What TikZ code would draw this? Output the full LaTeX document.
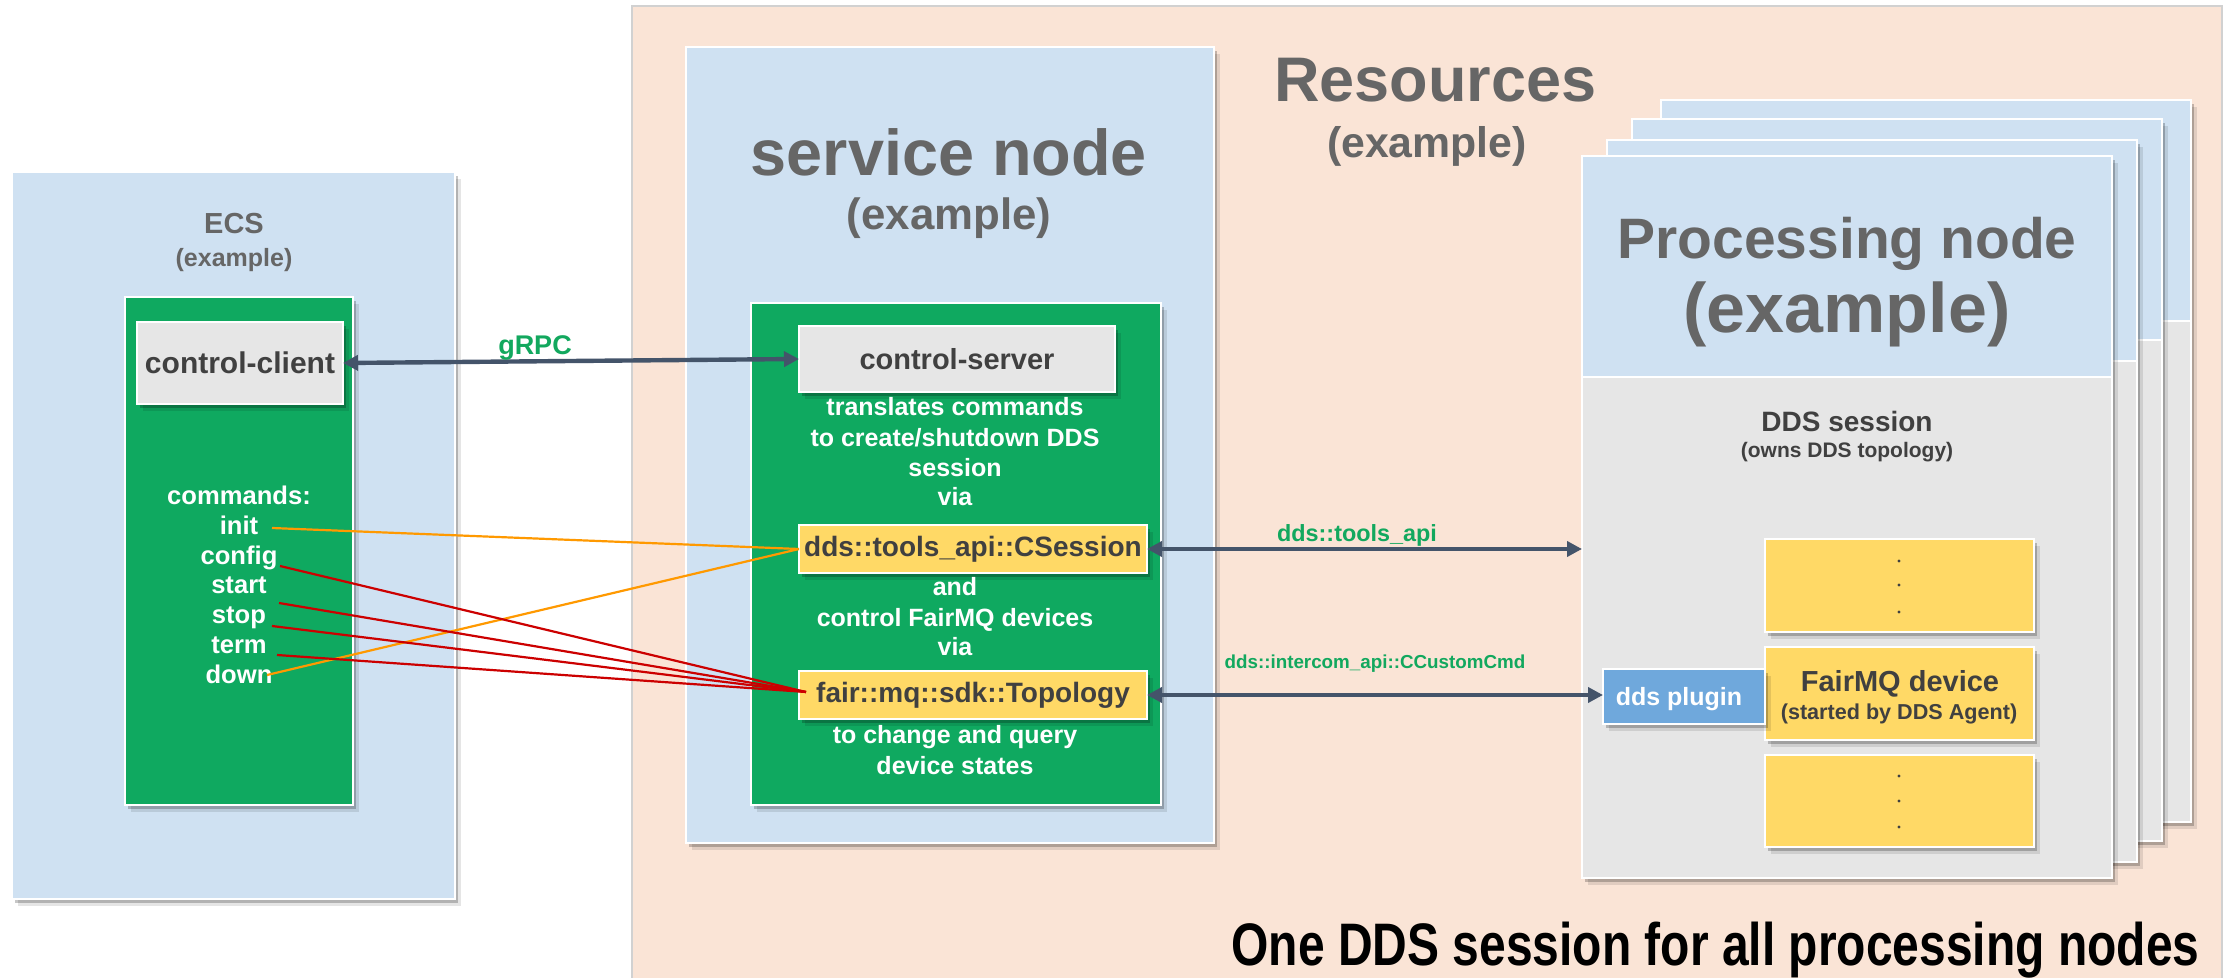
\documentclass[tikz,border=0pt]{standalone}
\usepackage{fontspec}
\setmainfont{Liberation Sans}
\newfontfamily\narrowfont[FakeStretch=0.8]{Liberation Sans}
\usetikzlibrary{arrows.meta,shadows}
\definecolor{peach}{HTML}{FAE4D6}
\definecolor{lblue}{HTML}{CFE1F2}
\definecolor{dgreen}{HTML}{0FA960}
\definecolor{lgrey}{HTML}{E6E6E6}
\definecolor{yel}{HTML}{FFD966}
\definecolor{plugblue}{HTML}{6FA8DC}
\definecolor{titlegrey}{HTML}{666666}
\definecolor{darktext}{HTML}{404040}
\definecolor{labgreen}{HTML}{12A85E}
\definecolor{arrowc}{HTML}{44546A}
\definecolor{orangec}{HTML}{FF9900}
\definecolor{redc}{HTML}{CC0000}
\newcommand\fsz[1]{\fontsize{#1}{#1}\selectfont\bfseries}
\newcommand\pbox[6]{\node[#2, anchor=north west, inner sep=0pt, outer sep=0pt,
  minimum width={(#5-#3)*0.5pt}, minimum height={(#6-#4)*0.5pt}] (#1) at (#3,#4) {};}
\tikzset{
  shd/.style={drop shadow={shadow xshift=3pt, shadow yshift=-3.5pt, opacity=0.10, fill=black},
              drop shadow={shadow xshift=1.6pt, shadow yshift=-2pt, opacity=0.22, fill=black}},
  wbox/.style={draw=white, line width=1.3pt},
  resbox/.style={draw=black!18, line width=1.2pt, fill=peach},
  bluebox/.style={wbox, fill=lblue, shd},
  greenbox/.style={wbox, fill=dgreen, shd},
  greybox/.style={wbox, fill=lgrey, shd},
  yelbox/.style={wbox, fill=yel, shd},
  plugbox/.style={wbox, fill=plugblue, shd},
  layerbg/.style={wbox, fill=lgrey, shd},
  layertop/.style={wbox, fill=lblue},
  txt/.style={inner sep=0pt, anchor=base},
  title/.style={txt, text=titlegrey},
  wtxt/.style={txt, text=white},
  dtxt/.style={txt, text=darktext},
  gtxt/.style={txt, text=labgreen},
  conn/.style={draw=arrowc, line width=2.2pt,
    {Triangle[length=7.5pt,width=7.5pt]}-{Triangle[length=7.5pt,width=7.5pt]}},
  cmdo/.style={draw=orangec, line width=1.1pt},
  cmdr/.style={draw=redc, line width=1.1pt},
  dot/.style={fill=darktext},
}
\begin{document}
\begin{tikzpicture}[x=0.5pt,y=-0.5pt]
\fill[white] (0,0) rectangle (2228,978);
\useasboundingbox (0,0) rectangle (2228,978);

% Resources background
\pbox{res}{resbox}{632}{6}{2222}{990}
\node[title, font=\fsz{31.5}] (restitle) at (1435.5,101.7) {Resources};
\node[title, font=\fsz{21.4}] (resex) at (1427,157.5) {(example)};

% ECS
\pbox{ecs}{bluebox}{12}{172}{455}{899}
\node[title, font=\fsz{14.5}] (ecstitle) at (234,234) {ECS};
\node[title, font=\fsz{12.5}] (ecsex) at (234,267) {(example)};
\pbox{ecsg}{greenbox}{125}{297}{353}{805}
\pbox{cclient}{greybox}{137}{322}{343}{404}
\node[dtxt, font=\fsz{15}, anchor=center] (cclientt) at (cclient.center) {control-client};
\node[wtxt, font=\fsz{12.8}] (cmds) at (239,504.4) {commands:};
\node[wtxt, font=\fsz{12.8}] (init) at (239,534.2) {init};
\node[wtxt, font=\fsz{12.8}] (config) at (239,564) {config};
\node[wtxt, font=\fsz{12.8}] (start) at (239,593.8) {start};
\node[wtxt, font=\fsz{12.8}] (stop) at (239,623.6) {stop};
\node[wtxt, font=\fsz{12.8}] (term) at (239,653.4) {term};
\node[wtxt, font=\fsz{12.8}] (down) at (239,683.2) {down};

% service node
\pbox{svc}{bluebox}{686}{47}{1214}{843}
\node[title, font=\fsz{32.4}] (svctitle) at (949,175.5) {service node};
\node[title, font=\fsz{21.9}] (svcex) at (949,230) {(example)};
\pbox{svcg}{greenbox}{751}{303}{1161}{805}
\pbox{cserver}{greybox}{799}{326}{1115}{392}
\node[dtxt, font=\fsz{14.5}, anchor=center] (cservert) at (cserver.center) {control-server};
\node[wtxt, font=\fsz{12.5}] (s1) at (955,415.8) {translates commands};
\node[wtxt, font=\fsz{12.5}] (s2) at (955,447) {to create/shutdown DDS};
\node[wtxt, font=\fsz{12.5}] (s3) at (955,477) {session};
\node[wtxt, font=\fsz{12.5}] (s4) at (955,506) {via};
\pbox{csession}{yelbox}{799}{525}{1147}{573}
\node[dtxt, font=\fsz{14}, anchor=center] (csessiont) at (csession.center) {dds::tools\_api::CSession};
\node[wtxt, font=\fsz{12.5}] (s5) at (955,596) {and};
\node[wtxt, font=\fsz{12.5}] (s6) at (955,626.4) {control FairMQ devices};
\node[wtxt, font=\fsz{12.5}] (s7) at (955,655.5) {via};
\pbox{topology}{yelbox}{799}{671}{1147}{719}
\node[dtxt, font=\fsz{14}, anchor=center] (topologyt) at (topology.center) {fair::mq::sdk::Topology};
\node[wtxt, font=\fsz{12.5}] (s8) at (955,743) {to change and query};
\node[wtxt, font=\fsz{12.5}] (s9) at (955,774.5) {device states};

% processing node stack
\pbox{l4}{layerbg}{1661}{100}{2191}{822}
\pbox{l4b}{layertop}{1661}{100}{2191}{321}
\pbox{l3}{layerbg}{1632}{119}{2162}{841}
\pbox{l3b}{layertop}{1632}{119}{2162}{340}
\pbox{l2}{layerbg}{1607}{140}{2137}{862}
\pbox{l2b}{layertop}{1607}{140}{2137}{361}
\pbox{fgrey}{layerbg}{1582}{156}{2112}{878}
\pbox{fblue}{layertop}{1582}{156}{2112}{377}
\node[title, font=\fsz{28.5}] (proctitle) at (1847,258.6) {Processing node};
\node[title, font=\fsz{35}] (procex) at (1847,332.5) {(example)};
\node[dtxt, font=\fsz{14}] (ddss) at (1847,432) {DDS session};
\node[dtxt, font=\fsz{10.5}] (ddsown) at (1847,457.6) {(owns DDS topology)};
\pbox{dev1}{yelbox}{1765}{539}{2034}{632}
\pbox{dev2}{yelbox}{1765}{647}{2034}{740}
\pbox{dev3}{yelbox}{1765}{755}{2034}{847}
\pbox{plugin}{plugbox}{1603}{669}{1765}{724}
\node[wtxt, font=\fsz{12.5}] (plugint) at (1679,705) {dds plugin};
\node[dtxt, font=\fsz{14.5}] (devt) at (1900,691) {FairMQ device};
\node[dtxt, font=\fsz{10.8}] (devs) at (1899,719) {(started by DDS Agent)};
\foreach \yy in {561,585,612,776,801,827} \fill[dot] (1899,\yy) circle (1.7);

% bottom caption
\node[txt, text=black, font=\narrowfont\fontsize{30}{30}\selectfont\bfseries] (caption) at (1715.5,965.7) {One DDS session for all processing nodes};

% connectors
\draw[conn] (cclient.east) -- (cserver.west);
\node[gtxt, font=\fsz{13.5}] (grpc) at (535,355) {gRPC};
\draw[conn] (csession.east) -- (csession.east -| fgrey.west);
\node[gtxt, font=\fsz{11.7}] (toolsapi) at (1357,541) {dds::tools\_api};
\draw[conn] (topology.east) -- (topology.east -| plugin.west);
\node[gtxt, font=\fsz{9.4}] (intercom) at (1375,668.3) {dds::intercom\_api::CCustomCmd};

\coordinate (p-init) at (272,528);
\coordinate (p-config) at (280,566);
\coordinate (p-start) at (279,603);
\coordinate (p-stop) at (272,626);
\coordinate (p-term) at (277,655);
\coordinate (p-down) at (267,675);
\coordinate (t-end) at ([xshift=3.5pt,yshift=1.5pt]topology.west);
\draw[cmdo] (p-init) -- (csession.west);
\draw[cmdo] (p-down) -- (csession.west);
\draw[cmdr] (p-config) -- (t-end);
\draw[cmdr] (p-start) -- (t-end);
\draw[cmdr] (p-stop) -- (t-end);
\draw[cmdr] (p-term) -- (t-end);
\end{tikzpicture}
\end{document}
